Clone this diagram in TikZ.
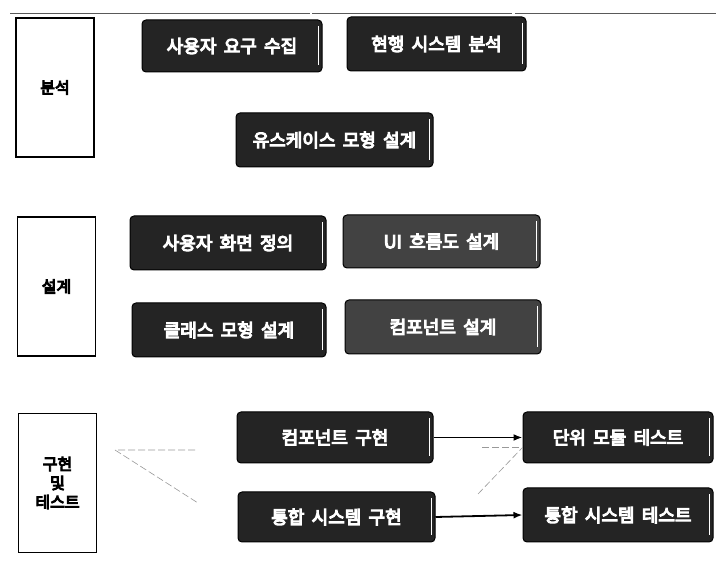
\documentclass[tikz,border=0pt]{standalone}
\usepackage{fontspec}
\setmainfont{Noto Sans CJK KR}[WordSpace=1.8]
\newfontfamily\krbold{Noto Sans CJK KR}[FakeBold=6, WordSpace=1.8]
\usetikzlibrary{arrows.meta}
\tikzset{
  stage/.style={draw=black, line width=1.3pt, fill=white, minimum width=78pt, minimum height=139pt,
    font=\krbold\fontsize{16}{18}\selectfont, align=center, inner sep=0pt},
  task/.style={draw=black, line width=1pt, fill=black!86, rounded corners=4pt, text=white,
    font=\krbold\fontsize{18}{20}\selectfont, inner sep=0pt},
  tasklight/.style={task, fill=black!74},
  flow/.style={-{Latex[length=9pt,width=7pt]}, line width=1.8pt},
  faint/.style={black!40, line width=0.6pt, dash pattern=on 7pt off 3pt},
  bevel/.style={white, line width=0.9pt}
}
\begin{document}
\begin{tikzpicture}[x=1pt,y=-1pt]
\useasboundingbox (0,0) rectangle (716,585);
\fill[white] (0,0) rectangle (716,585);
% top rule
\coordinate (tl) at (10,13);
\coordinate (tr) at (716,13);
\draw[black!65, line width=0.8pt, dash pattern=on 300pt off 2pt on 200pt off 3pt] (tl) -- (tr);
% stage boxes
\node[stage] (ana) at (55,87.5) {분석};
\node[stage] (des) at (56.5,286.5) {설계};
\node[stage] (imp) at (57.5,483) {구현\\[1pt]및\\[1pt]테스트};
% tasks
\node[task, minimum width=180pt, minimum height=52pt] (req) at (232,46) {사용자 요구 수집};
\node[task, minimum width=179pt, minimum height=54pt] (cur) at (436.5,44) {현행 시스템 분석};
\node[task, minimum width=197pt, minimum height=54pt] (uc) at (334.5,140) {유스케이스 모형 설계};
\node[task, minimum width=196pt, minimum height=54pt] (scr) at (228,243) {사용자 화면 정의};
\node[tasklight, minimum width=197pt, minimum height=53pt] (ui) at (441.5,241.5) {UI 흐름도 설계};
\node[task, minimum width=194pt, minimum height=54pt] (cls) at (229,330) {클래스 모형 설계};
\node[tasklight, minimum width=196pt, minimum height=54pt] (comp) at (443,327) {컴포넌트 설계};
\node[task, minimum width=196pt, minimum height=51pt] (impl) at (335,437.5) {컴포넌트 구현};
\node[task, minimum width=197pt, minimum height=50pt] (integ) at (336.5,517) {통합 시스템 구현};
\node[task, minimum width=190pt, minimum height=51pt] (unit) at (618,437.5) {단위 모듈 테스트};
\node[task, minimum width=190pt, minimum height=54pt] (itest) at (618,515) {통합 시스템 테스트};
\foreach \n in {req,cur,uc,scr,ui,cls,comp,impl,integ,unit,itest}
  \draw[bevel] ([xshift=-4pt,yshift=-7pt]\n.north east) -- ([xshift=-4pt,yshift=7pt]\n.south east);
% arrows
\draw[flow] (impl.east) -- (unit.west);
\draw[flow] (integ.east) -- (itest.west);
% faint traces
\coordinate (fa) at (115,450);
\coordinate (fb) at (195,450);
\coordinate (fc) at (198,503);
\coordinate (fd) at (482,447);
\coordinate (fe) at (478,494);
\draw[faint] (fb) -- (fa) -- (fc);
\draw[faint] (fd) -- (unit.west |- fd);
\draw[faint] (fe) -- ([yshift=-10pt]unit.west);
\end{tikzpicture}
\end{document}
